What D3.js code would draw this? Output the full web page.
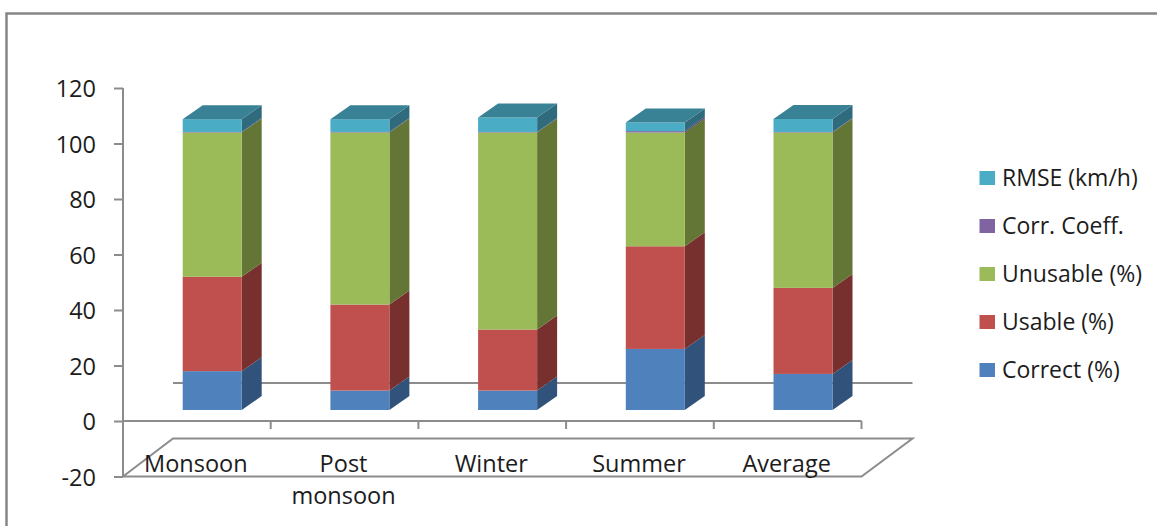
<!DOCTYPE html>
<html>
<head>
<meta charset="utf-8">
<script src="https://cdnjs.cloudflare.com/ajax/libs/d3/7.8.5/d3.min.js"></script>
<style>
html, body { margin: 0; padding: 0; background: #fff; }
svg { display: block; }
text { font-family: "Open Sans", "Noto Sans", sans-serif; fill: #1c1c1c; }
</style>
</head>
<body>
<svg id="chart" width="1157" height="526"></svg>
<script>
// Stacked 3-D column chart of wind forecast skill by season.
const categories = ["Monsoon", "Post monsoon", "Winter", "Summer", "Average"];
const seriesNames = ["Correct (%)", "Usable (%)", "Unusable (%)", "Corr. Coeff.", "RMSE (km/h)"];
const correct = [14, 7, 7, 22, 13];
const usable = [34, 31, 22, 37, 31];
const unusable = [52, 62, 71, 41, 56];
const corrCoeff = [0.2, 0.2, 0.2, 0.5, 0.2];
const rmse = [4.6, 4.6, 5.2, 3.1, 4.7];
const yTicks = [-20, 0, 20, 40, 60, 80, 100, 120];
const frontColors = ["#4f81bd", "#c0504d", "#9bbb59", "#8064a2", "#4bacc6"];
const sideColors = ["#31527b", "#77302e", "#637635", "#4f3e66", "#2f6b7c"];
const topColor = "#398296";

const svg = d3.select("#chart");
const grey = "#8c8c8c";

// Chart frame, running off the right and bottom page edges
svg.append("path")
  .attr("d", "M6.5,526V13.5H1157")
  .attr("fill", "none").attr("stroke", "#868686").attr("stroke-width", 2.5);

const y = d3.scaleLinear().domain([-20, 120]).range([476.5, 88]);
const x = d3.scaleBand().domain(categories).range([123, 861.5]);

// Oblique projection used for the 3-D depth
const depth = { dx: 20, dy: -14 };
const floorDepth = { dx: 50, dy: -38 };
const barWidth = 59;
const barInset = 59.7;
const baselineLift = y(0) - 410; // front of the columns sits above the axis zero
const backZeroY = 383;

// Floor panel under the columns
svg.append("path")
  .attr("d", `M${x.range()[0]},${y(-20)}L${x.range()[0] + floorDepth.dx},${y(-20) + floorDepth.dy}` +
             `H${x.range()[1] + floorDepth.dx + 1}L${x.range()[1]},${y(-20)}Z`)
  .attr("fill", "#fff").attr("stroke", grey).attr("stroke-width", 2);

// Back-wall zero line
svg.append("line")
  .attr("x1", x.range()[0] + floorDepth.dx).attr("x2", x.range()[1] + floorDepth.dx + 1)
  .attr("y1", backZeroY).attr("y2", backZeroY)
  .attr("stroke", grey).attr("stroke-width", 2);

// Value axis
const yAxis = svg.append("g").attr("transform", `translate(${x.range()[0]},0)`)
  .call(d3.axisLeft(y).tickValues(yTicks).tickSize(9).tickPadding(18).tickFormat(d => String(d)));
yAxis.selectAll(".tick line").attr("stroke", grey).attr("stroke-width", 2);
yAxis.select(".domain").attr("stroke", grey).attr("stroke-width", 2).attr("d", `M0,${y(120)}V${y(-20)}`);
yAxis.selectAll("text")
  .attr("font-size", 23.5)
  .attr("dy", "0.38em")
  .attr("font-family", '"Open Sans", sans-serif')
  .attr("fill", "#1c1c1c");

// Category axis at zero
const xAxisEdges = [...categories.map(c => x(c)), x.range()[1]];
svg.append("line")
  .attr("x1", x.range()[0]).attr("x2", x.range()[1])
  .attr("y1", y(0)).attr("y2", y(0))
  .attr("stroke", grey).attr("stroke-width", 2);
svg.selectAll(".xtick").data(xAxisEdges).join("line")
  .attr("class", "xtick")
  .attr("x1", d => d).attr("x2", d => d)
  .attr("y1", y(0)).attr("y2", y(0) + 8)
  .attr("stroke", grey).attr("stroke-width", 2);

// Category labels; the long one wraps on two lines
const labelLines = { "Post monsoon": ["Post", "monsoon"] };
categories.forEach(c => {
  const lines = labelLines[c] || [c];
  lines.forEach((line, i) => {
    svg.append("text")
      .attr("x", x(c) + x.bandwidth() / 2 - 1)
      .attr("y", 472 + i * 32)
      .attr("text-anchor", "middle")
      .attr("font-size", 23.5)
      .text(line);
  });
});

// Stack the series in drawing order
const rows = categories.map((c, i) => ({
  category: c,
  "Correct (%)": correct[i],
  "Usable (%)": usable[i],
  "Unusable (%)": unusable[i],
  "Corr. Coeff.": corrCoeff[i],
  "RMSE (km/h)": rmse[i]
}));
const stacked = d3.stack().keys(seriesNames)(rows);
const height = v => y(v) - baselineLift;

// Columns: right side, front face and, for the last series, the top
stacked.forEach((layer, s) => {
  const g = svg.append("g");
  layer.forEach(d => {
    const x0 = x(d.data.category) + barInset;
    const x1 = x0 + barWidth;
    const yb = height(d[0]);
    const yt = height(d[1]);
    g.append("path")
      .attr("d", `M${x1},${yb}L${x1 + depth.dx},${yb + depth.dy}V${yt + depth.dy}L${x1},${yt}Z`)
      .attr("fill", sideColors[s]);
    g.append("rect")
      .attr("x", x0).attr("y", yt)
      .attr("width", barWidth).attr("height", yb - yt)
      .attr("fill", frontColors[s]);
    if (s === stacked.length - 1) {
      g.append("path")
        .attr("d", `M${x0},${yt}L${x0 + depth.dx},${yt + depth.dy}H${x1 + depth.dx}L${x1},${yt}Z`)
        .attr("fill", topColor);
    }
  });
});

// Legend, listed top-down from the last series
const legendY = d3.scalePoint().domain([...seriesNames].reverse()).range([178, 370]);
const legend = svg.selectAll(".legend").data(seriesNames).join("g")
  .attr("class", "legend")
  .attr("transform", d => `translate(979.5,${legendY(d)})`);
legend.append("rect")
  .attr("x", 0).attr("y", -7).attr("width", 15.5).attr("height", 14)
  .attr("fill", (d, i) => frontColors[i]);
legend.append("text")
  .attr("x", 22.5).attr("y", 8)
  .attr("font-size", 23)
  .text(d => d);
</script>
</body>
</html>
